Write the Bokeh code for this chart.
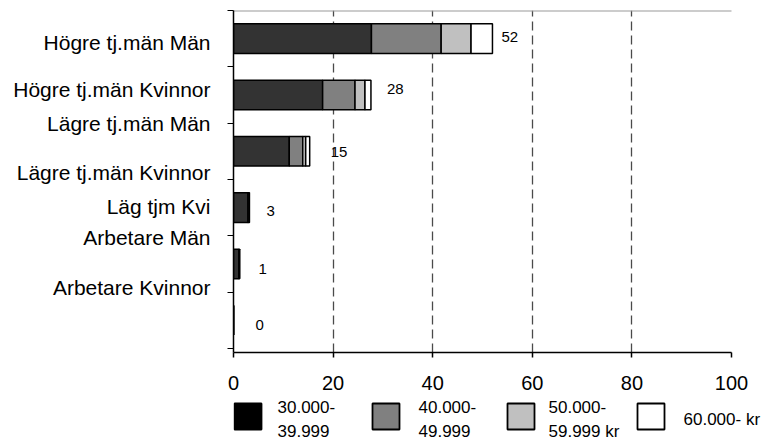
from bokeh.plotting import figure
from bokeh.models import ColumnDataSource, Range1d, FixedTicker
from bokeh.layouts import column
from bokeh.embed import file_html
from bokeh.resources import INLINE
from bokeh.core.properties import value

# ---------------- data ----------------
categories = ["Högre tj.män Män", "Högre tj.män Kvinnor", "Lägre tj.män Män",
              "Lägre tj.män Kvinnor", "Arbetare Män", "Arbetare Kvinnor"]
v30 = [27.7, 17.9, 11.2, 2.9, 1.1, 0.0]
v40 = [14.0, 6.5, 2.7, 0.2, 0.1, 0.0]
v50 = [6.0, 2.0, 0.6, 0.0, 0.0, 0.0]
v60 = [4.3, 1.2, 0.8, 0.1, 0.0, 0.0]
total_labels = ["52", "28", "15", "3", "1", "0"]
series_names = ["30.000-\n39.999", "40.000-\n49.999", "50.000-\n59.999 kr", "60.000- kr"]
axis_label_texts = ["Högre tj.män Män", "Högre tj.män Kvinnor", "Lägre tj.män Män",
                    "Lägre tj.män Kvinnor", "Läg tjm Kvi", "Arbetare Män", "Arbetare Kvinnor"]
x_ticks = [0, 20, 40, 60, 80, 100]
grid_ticks = [20, 40, 60, 80]

# ---------------- styles / layout ----------------
FONT = "Liberation Sans"
bar_colors = ["#333333", "#808080", "#c0c0c0", "#ffffff"]
legend_colors = ["#000000", "#808080", "#c0c0c0", "#ffffff"]
axis_label_pos = [5.434, 4.591, 3.992, 3.130, 2.523, 1.961, 1.083]
label_dx = [9, 16, 21, 17, 19, 22]
label_dy = [-1.5, -6, 1, 3.5, 5.5, 5]

W = 779
H_MAIN, H_LEG = 398, 44
FL, FR, FT = 233, 16, 10          # frame borders (px)
FB = H_MAIN - 352
PX_PER_UNIT = 4.98                 # 100 units across 498 px
x_end = (W - FL - FR) / PX_PER_UNIT

# legend layout in page pixels
legend_box_left = [234, 372, 507, 637]
legend_box_w, legend_box_top, legend_box_bot = 27, 403, 429
legend_text_left = [277, 418, 548, 683]
legend_text_cy = [419, 419, 419, 419]

n = len(categories)
ypos = [n - i - 0.5 for i in range(n)]
totals = [a + b + c + d for a, b, c, d in zip(v30, v40, v50, v60)]

src = ColumnDataSource(dict(y=ypos, s30=v30, s40=v40, s50=v50, s60=v60,
                            tot=totals, lab=total_labels, dx=label_dx, dy=label_dy))

p = figure(width=W, height=H_MAIN, x_range=Range1d(0, x_end), y_range=Range1d(-0.072, n),
           output_backend="svg", toolbar_location=None,
           min_border_left=FL, min_border_right=FR, min_border_top=FT, min_border_bottom=FB)
p.outline_line_color = None
p.background_fill_color = "white"

p.hbar_stack(["s30", "s40", "s50", "s60"], y="y", height=0.526, color=bar_colors,
             line_color="black", line_width=1.5, source=src)

p.text(x="tot", y="y", text="lab", x_offset="dx", y_offset="dy", source=src,
       text_font=value(FONT), text_font_size="15px", text_color="black",
       text_align="left", text_baseline="middle")

# thin grey top border of the plot area (0..100)
p.segment(x0=[x_ticks[0]], x1=[x_ticks[-1]], y0=[n], y1=[n],
          line_color="#9a9a9a", line_width=2)

# grid
p.ygrid.visible = False
p.xgrid.ticker = FixedTicker(ticks=grid_ticks)
p.xgrid.grid_line_color = "#4a4a4a"
p.xgrid.grid_line_dash = "9 5"
p.xgrid.grid_line_width = 1.3

# x axis
p.xaxis.ticker = FixedTicker(ticks=x_ticks)
p.xaxis.bounds = (x_ticks[0], x_ticks[-1])
p.xaxis.major_label_text_font = FONT
p.xaxis.major_label_text_font_size = "20px"
p.xaxis.major_label_text_color = "black"
p.xaxis.major_tick_out = 5
p.xaxis.major_tick_in = 0
p.xaxis.minor_tick_line_color = None
p.xaxis.axis_line_width = 1.5
p.xaxis.major_tick_line_width = 1.5
p.xaxis.major_label_standoff = 18

# y axis
p.yaxis.ticker = FixedTicker(ticks=axis_label_pos, minor_ticks=list(range(n + 1)))
p.yaxis.major_label_overrides = {pos: t for pos, t in zip(axis_label_pos, axis_label_texts)}
p.yaxis.major_label_text_font = FONT
p.yaxis.major_label_text_font_size = "21px"
p.yaxis.major_label_text_color = "black"
p.yaxis.major_tick_line_color = None
p.yaxis.major_tick_out = 0
p.yaxis.major_tick_in = 0
p.yaxis.minor_tick_out = 6
p.yaxis.minor_tick_in = 0
p.yaxis.minor_tick_line_color = "black"
p.yaxis.axis_line_width = 1.5
p.yaxis.major_label_standoff = 17

# ---------------- legend strip (page-pixel coordinates) ----------------
p2 = figure(width=W, height=H_LEG, x_range=Range1d(FL, W - FR),
            y_range=Range1d(H_MAIN + H_LEG, H_MAIN),
            output_backend="svg", toolbar_location=None,
            x_axis_location=None, y_axis_location=None,
            min_border_left=FL, min_border_right=FR, min_border_top=0, min_border_bottom=0)
p2.grid.visible = False
p2.outline_line_color = None
p2.background_fill_color = "white"
p2.quad(left=legend_box_left, right=[b + legend_box_w for b in legend_box_left],
        top=[legend_box_top] * 4, bottom=[legend_box_bot] * 4, fill_color=legend_colors,
        line_color="black", line_width=1.8)
p2.text(x=legend_text_left, y=legend_text_cy, text=series_names, text_font=value(FONT),
        text_font_size="17px", text_color="black", text_align="left",
        text_baseline="middle", text_line_height=1.22)

layout = column(p, p2, spacing=0)
open("out.html", "w").write(file_html(layout, INLINE))
